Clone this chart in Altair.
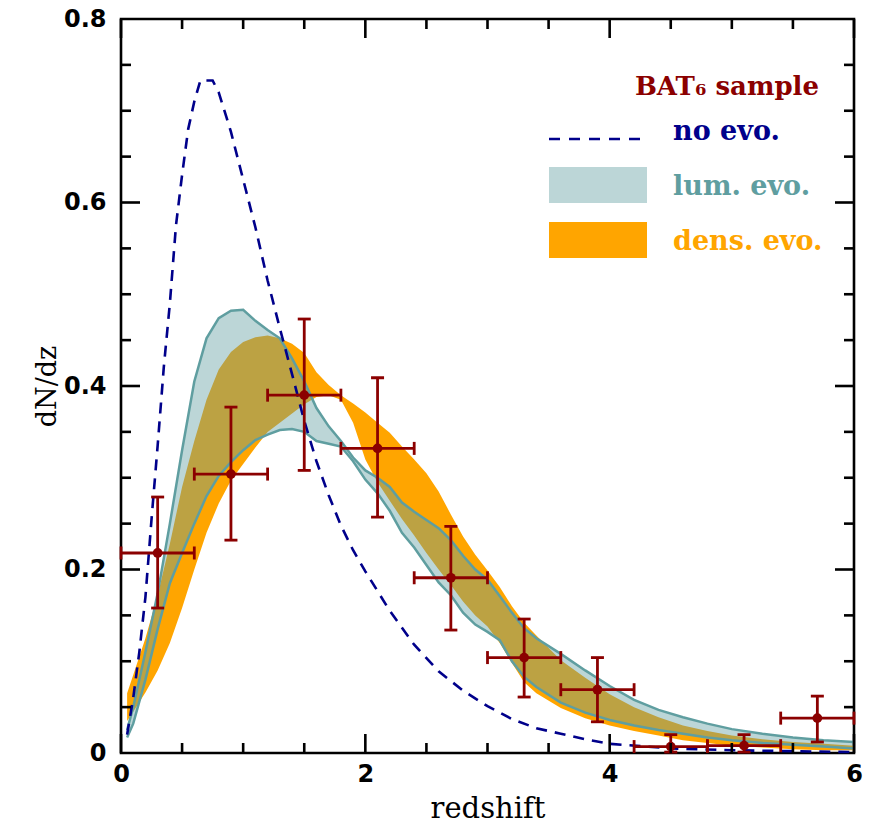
import altair as alt
import pandas as pd

# ---------------- data ----------------
z_band = [0.05, 0.1, 0.2, 0.3, 0.4, 0.5, 0.6, 0.7, 0.8, 0.9, 1.0, 1.1, 1.2, 1.3, 1.4,
          1.5, 1.6, 1.7, 1.8, 1.9, 2.0, 2.1, 2.2, 2.3, 2.4, 2.5, 2.6, 2.7, 2.8, 2.9,
          3.0, 3.1, 3.2, 3.3, 3.4, 3.6, 3.8, 4.0, 4.2, 4.4, 4.6, 4.8, 5.0, 5.25, 5.5,
          5.75, 6.0]

lum_hi = [0.025, 0.05, 0.11, 0.174, 0.25, 0.33, 0.405, 0.452, 0.474, 0.482, 0.483,
          0.471, 0.461, 0.452, 0.43, 0.405, 0.376, 0.356, 0.340, 0.322, 0.308, 0.30,
          0.29, 0.273, 0.263, 0.254, 0.245, 0.232, 0.215, 0.20, 0.189, 0.171, 0.153,
          0.136, 0.125, 0.108, 0.09, 0.073, 0.058, 0.047, 0.039, 0.032, 0.026, 0.021,
          0.017, 0.014, 0.012]
lum_lo = [0.017, 0.032, 0.08, 0.135, 0.185, 0.218, 0.25, 0.28, 0.302, 0.317, 0.33,
          0.341, 0.347, 0.352, 0.353, 0.35, 0.34, 0.337, 0.334, 0.318, 0.298, 0.283,
          0.264, 0.24, 0.224, 0.205, 0.186, 0.172, 0.153, 0.14, 0.132, 0.123, 0.10,
          0.083, 0.072, 0.055, 0.044, 0.036, 0.030, 0.025, 0.021, 0.017, 0.014, 0.011,
          0.009, 0.007, 0.005]
dens_hi = [0.065, 0.085, 0.125, 0.172, 0.228, 0.29, 0.34, 0.385, 0.418, 0.437, 0.448,
           0.453, 0.455, 0.452, 0.446, 0.436, 0.415, 0.401, 0.390, 0.381, 0.371, 0.36,
           0.349, 0.334, 0.32, 0.305, 0.285, 0.26, 0.236, 0.216, 0.199, 0.181, 0.16,
           0.142, 0.128, 0.101, 0.082, 0.064, 0.05, 0.039, 0.03, 0.024, 0.019, 0.015,
           0.012, 0.01, 0.008]
dens_lo = [0.035, 0.045, 0.066, 0.09, 0.12, 0.158, 0.2, 0.24, 0.272, 0.297, 0.315,
           0.333, 0.35, 0.36, 0.37, 0.38, 0.388, 0.39, 0.385, 0.36, 0.32, 0.295, 0.275,
           0.255, 0.237, 0.218, 0.2, 0.183, 0.165, 0.15, 0.138, 0.12, 0.098, 0.077,
           0.065, 0.049, 0.038, 0.03, 0.024, 0.019, 0.014, 0.011, 0.008, 0.006, 0.004,
           0.003, 0.003]

z_noevo = [0.05, 0.1, 0.15, 0.2, 0.25, 0.3, 0.35, 0.4, 0.45, 0.5, 0.55, 0.6, 0.65,
           0.75, 0.8, 0.9, 1.0, 1.1, 1.2, 1.3, 1.4, 1.5, 1.6, 1.7, 1.8, 1.9, 2.0, 2.2,
           2.4, 2.6, 2.8, 3.0, 3.2, 3.4, 3.6, 3.8, 4.0, 4.5, 5.0, 5.5, 6.0]
noevo = [0.02, 0.06, 0.11, 0.17, 0.255, 0.335, 0.42, 0.49, 0.575, 0.63, 0.68, 0.71,
         0.733, 0.733, 0.72, 0.677, 0.625, 0.573, 0.515, 0.463, 0.413, 0.362, 0.318,
         0.281, 0.248, 0.221, 0.198, 0.155, 0.118, 0.089, 0.068, 0.051, 0.037, 0.027,
         0.021, 0.015, 0.01, 0.005, 0.003, 0.002, 0.001]

z_pts = [0.3, 0.9, 1.5, 2.1, 2.7, 3.3, 3.9, 4.5, 5.1, 5.7]
z_lo = [0.0, 0.6, 1.2, 1.8, 2.4, 3.0, 3.6, 4.2, 4.8, 5.4]
z_hi = [0.6, 1.2, 1.8, 2.4, 3.0, 3.6, 4.2, 4.8, 5.4, 6.0]
dndz = [0.218, 0.304, 0.390, 0.332, 0.191, 0.104, 0.069, 0.007, 0.008, 0.038]
err_hi = [0.279, 0.377, 0.473, 0.409, 0.247, 0.146, 0.104, 0.020, 0.020, 0.062]
err_lo = [0.158, 0.232, 0.308, 0.257, 0.134, 0.061, 0.034, 0.001, 0.001, 0.012]

x_major = [0, 2, 4, 6]
x_minor = [0.5, 1, 1.5, 2.5, 3, 3.5, 4.5, 5, 5.5]
y_labels = [0, 0.2, 0.4, 0.6, 0.8]
y_major = [0.2, 0.4, 0.6]
y_minor = [0.05, 0.1, 0.15, 0.25, 0.3, 0.35, 0.45, 0.5, 0.55, 0.65, 0.7, 0.75]

legend_labels = ["BAT\u2086 sample", "no evo.", "lum. evo.", "dens. evo."]

# ---------------- styling ----------------
W, H = 733, 734
TEAL = "#5f9ea0"
ORANGE = "#ffa500"
NAVY = "#00008b"
DRED = "#8b0000"
HATCH_OPACITY = 0.42

xs = alt.Scale(domain=[0, 6], nice=False, zero=False)
ys = alt.Scale(domain=[0, 0.8], nice=False, zero=False)

x_axis = alt.Axis(values=x_major, format="d", title="redshift", labelPadding=9,
                  titlePadding=8)
y_axis = alt.Axis(values=y_labels, title="dN/dz", labelPadding=15, titlePadding=2,
                  labelExpr="datum.value == 0 ? '0' : format(datum.value, '.1f')")


def X(f):
    return alt.X(f, type="quantitative", scale=xs, axis=x_axis)


def Y(f):
    return alt.Y(f, type="quantitative", scale=ys, axis=y_axis)


band = pd.DataFrame({"z": z_band, "lh": lum_hi, "ll": lum_lo, "dh": dens_hi, "dl": dens_lo})
ne = pd.DataFrame({"z": z_noevo, "v": noevo})
pts = pd.DataFrame({"z": z_pts, "v": dndz, "lo": err_lo, "hi": err_hi, "zl": z_lo, "zh": z_hi})

dens_area = alt.Chart(band).mark_area(color=ORANGE, opacity=1).encode(
    x=X("z"), y=Y("dh"), y2="dl")
lum_area = alt.Chart(band).mark_area(color=TEAL, opacity=HATCH_OPACITY).encode(
    x=X("z"), y=Y("lh"), y2="ll")
lum_top = alt.Chart(band).mark_line(color=TEAL, strokeWidth=2.5).encode(
    x=X("z"), y=Y("lh"))
lum_bot = alt.Chart(band).mark_line(color=TEAL, strokeWidth=2.5).encode(
    x=X("z"), y=Y("ll"))
noevo_line = alt.Chart(ne).mark_line(color=NAVY, strokeWidth=2.6, strokeDash=[11, 8]).encode(
    x=X("z"), y=Y("v"))

EW = 2.8
ebar_v = alt.Chart(pts).mark_rule(color=DRED, strokeWidth=EW).encode(
    x=X("z"), y=Y("lo"), y2="hi")
ebar_h = alt.Chart(pts).mark_rule(color=DRED, strokeWidth=EW).encode(
    x=X("zl"), x2="zh", y=Y("v"))
cap_hi = alt.Chart(pts).mark_tick(color=DRED, orient="horizontal", size=13, thickness=EW,
                                  opacity=1).encode(x=X("z"), y=Y("hi"))
cap_lo = alt.Chart(pts).mark_tick(color=DRED, orient="horizontal", size=13, thickness=EW,
                                  opacity=1).encode(x=X("z"), y=Y("lo"))
cap_l = alt.Chart(pts).mark_tick(color=DRED, orient="vertical", size=13, thickness=EW,
                                 opacity=1).encode(x=X("zl"), y=Y("v"))
cap_r = alt.Chart(pts).mark_tick(color=DRED, orient="vertical", size=13, thickness=EW,
                                 opacity=1).encode(x=X("zh"), y=Y("v"))
dots = alt.Chart(pts).mark_circle(color=DRED, size=95, opacity=1).encode(
    x=X("z"), y=Y("v"))

# inward ticks on all four sides
TW = 2.6
MAJ, MIN = 19, 10
xmaj = pd.DataFrame({"t": x_major})
xmin = pd.DataFrame({"t": x_minor})
ymaj = pd.DataFrame({"t": y_major})
ymin = pd.DataFrame({"t": y_minor})
tick_layers = []
for df, L in [(xmaj, MAJ), (xmin, MIN)]:
    tick_layers.append(alt.Chart(df).mark_rule(color="black", strokeWidth=TW).encode(
        x=X("t"), y=alt.value(H), y2=alt.value(H - L)))
    tick_layers.append(alt.Chart(df).mark_rule(color="black", strokeWidth=TW).encode(
        x=X("t"), y=alt.value(0), y2=alt.value(L)))
for df, L in [(ymaj, MAJ), (ymin, MIN)]:
    tick_layers.append(alt.Chart(df).mark_rule(color="black", strokeWidth=TW).encode(
        y=Y("t"), x=alt.value(0), x2=alt.value(L)))
    tick_layers.append(alt.Chart(df).mark_rule(color="black", strokeWidth=TW).encode(
        y=Y("t"), x=alt.value(W), x2=alt.value(W - L)))

# legend
one = pd.DataFrame({"k": [0]})
leg_dash = alt.Chart(one).mark_rule(color=NAVY, strokeWidth=2.6, strokeDash=[11, 9]).encode(
    x=alt.value(428), x2=alt.value(524), y=alt.value(120))
leg_hatch = alt.Chart(one).mark_rect(color=TEAL, opacity=HATCH_OPACITY).encode(
    x=alt.value(428), x2=alt.value(526), y=alt.value(148), y2=alt.value(184))
leg_orange = alt.Chart(one).mark_rect(color=ORANGE, opacity=1).encode(
    x=alt.value(428), x2=alt.value(526), y=alt.value(203), y2=alt.value(239))

lab = pd.DataFrame({"t": legend_labels})
FS = 27
FW = "bold"
leg_texts = [
    alt.Chart(lab.iloc[[0]]).mark_text(font="DejaVu Serif", fontSize=26, fontWeight=FW,
                                       color=DRED, align="right", baseline="alphabetic").encode(
        x=alt.value(698), y=alt.value(76), text="t:N"),
    alt.Chart(lab.iloc[[1]]).mark_text(font="DejaVu Serif", fontSize=FS, fontWeight=FW,
                                       color=NAVY, align="left", baseline="alphabetic").encode(
        x=alt.value(552), y=alt.value(121), text="t:N"),
    alt.Chart(lab.iloc[[2]]).mark_text(font="DejaVu Serif", fontSize=FS, fontWeight=FW,
                                       color=TEAL, align="left", baseline="alphabetic").encode(
        x=alt.value(552), y=alt.value(176), text="t:N"),
    alt.Chart(lab.iloc[[3]]).mark_text(font="DejaVu Serif", fontSize=FS, fontWeight=FW,
                                       color=ORANGE, align="left", baseline="alphabetic").encode(
        x=alt.value(552), y=alt.value(231), text="t:N"),
]

chart = alt.layer(
    dens_area, lum_area, lum_top, lum_bot, noevo_line,
    ebar_v, ebar_h, cap_hi, cap_lo, cap_l, cap_r, dots,
    *tick_layers, leg_dash, leg_hatch, leg_orange, *leg_texts
).properties(
    width=W, height=H,
    autosize=alt.AutoSizeParams(type="none"),
    padding={"left": 121, "top": 19, "right": 29, "bottom": 76},
    background="white",
).configure_view(
    stroke="black", strokeWidth=2.6
).configure_axis(
    ticks=False, domain=False, grid=False,
    labelFont="DejaVu Sans", labelFontWeight="bold", labelFontSize=24,
    labelColor="black", labelOverlap=False, labelFlush=False,
    titleFont="DejaVu Serif", titleFontWeight="normal", titleColor="black",
).configure_axisX(
    titleFontSize=29
).configure_axisY(
    titleFontSize=27
)

chart.save("out.html", embed_options={"renderer": "svg", "actions": False})
